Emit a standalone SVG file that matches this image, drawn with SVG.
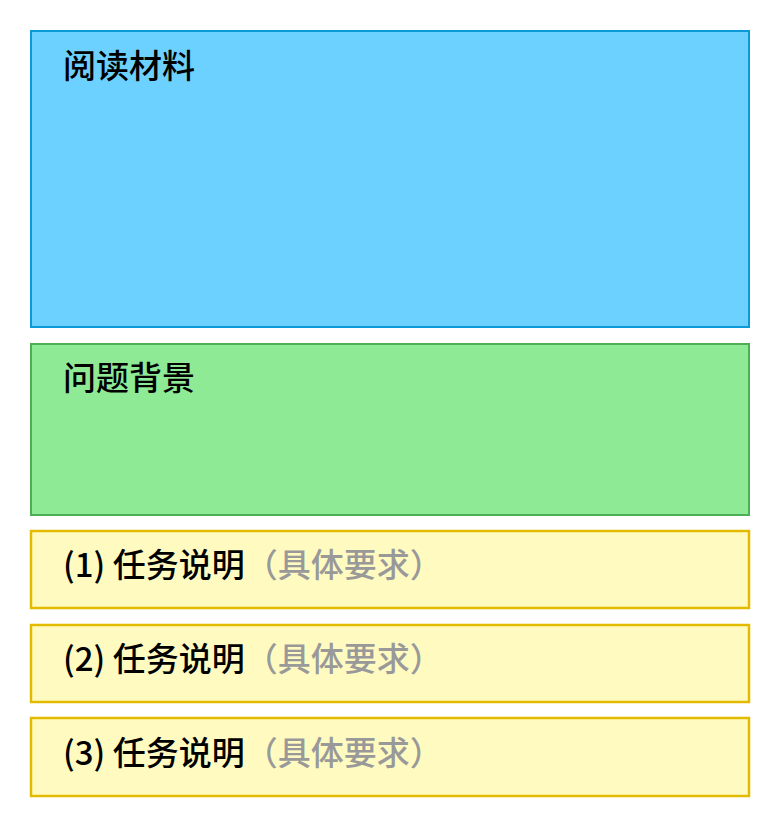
<svg xmlns="http://www.w3.org/2000/svg" width="781" height="828" viewBox="0 0 781 828">
<style>
.t{font-family:"Noto Sans CJK SC","Noto Sans",sans-serif;font-size:33px;font-weight:500;fill:#000}
.g{fill:#999}
.blue{fill:#6DD1FF;stroke:#0A9AD8;stroke-width:2}
.green{fill:#8EEA94;stroke:#4CAF55;stroke-width:2}
.yel{fill:#FFFBC0;stroke:#E2BA00;stroke-width:2.5}
</style>
<rect width="781" height="828" fill="#fff"/>
<g id="reading"><rect class="blue" x="31" y="31" width="718" height="296"/><text class="t" x="63" y="78">阅读材料</text></g>
<g id="background"><rect class="green" x="31" y="344" width="718" height="171"/><text class="t" x="63" y="390">问题背景</text></g>
<g id="task1"><rect class="yel" x="31" y="531" width="718" height="77"/><text class="t" x="63" y="577">(1) 任务说明<tspan class="g">（具体要求）</tspan></text></g>
<g id="task2"><rect class="yel" x="31" y="625" width="718" height="77"/><text class="t" x="63" y="671">(2) 任务说明<tspan class="g">（具体要求）</tspan></text></g>
<g id="task3"><rect class="yel" x="31" y="718" width="718" height="78"/><text class="t" x="63" y="765">(3) 任务说明<tspan class="g">（具体要求）</tspan></text></g>
<g id="connectors"></g>
</svg>
